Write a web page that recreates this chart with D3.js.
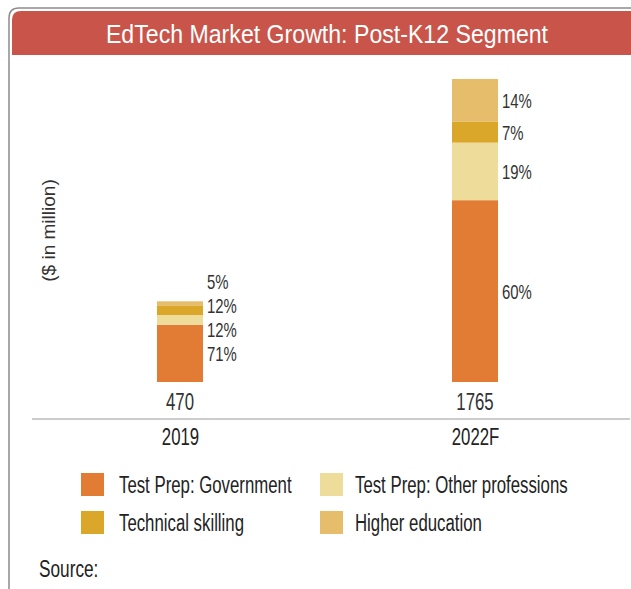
<!DOCTYPE html>
<html>
<head>
<meta charset="utf-8">
<script src="https://cdn.jsdelivr.net/npm/d3@7"></script>
<style>
  body { margin: 0; background: #fff; }
  text { font-family: "Liberation Sans", Arial, sans-serif; }
</style>
</head>
<body>
<svg id="chart"></svg>
<script>
var years = ["2019", "2022F"];
var totals = [470, 1765];
var segments = ["Test Prep: Government", "Test Prep: Other professions", "Technical skilling", "Higher education"];
// share of each segment per year, same order as segments
var shares2019 = [71, 12, 12, 5];
var shares2022 = [60, 19, 7, 14];
var colors = ["#E27B33", "#EDDC9A", "#DBA72B", "#E6BD6B"];

var W = 631, H = 589;
var svg = d3.select("#chart").attr("width", W).attr("height", H);

// the original uses a condensed face, so squeeze the text horizontally
function squeeze(sel, x, y, sx) {
  sel.attr("transform", function(d, i) {
    var px = typeof x === "function" ? x(d, i) : x;
    var py = typeof y === "function" ? y(d, i) : y;
    return "translate(" + px + "," + py + ") scale(" + sx + ",1)";
  });
}

// frame
svg.append("path")
    .attr("d", "M9,589 V18 Q9,8 19,8 H631")
    .attr("fill", "none")
    .attr("stroke", "#8c8c8c")
    .attr("stroke-width", 1.5);

svg.append("path")
    .attr("d", "M12,55 V20 Q12,11 21,11 H631 V55 Z")
    .attr("fill", "#C9544A");

svg.append("text")
    .attr("text-anchor", "middle")
    .attr("fill", "#fff")
    .attr("font-size", 25)
    .text("EdTech Market Growth: Post-K12 Segment")
    .call(squeeze, 327, 43, 0.925);

var x = d3.scalePoint().domain(years).range([32.5, 622.5]).padding(0.5);
var y = d3.scaleLinear().domain([0, d3.max(totals)]).range([382, 79]);
var barW = 46;

var data = years.map(function(yr, i) {
  var shares = i === 0 ? shares2019 : shares2022;
  var acc = 0;
  var segs = shares.map(function(s, j) {
    var v = totals[i] * s / 100;
    var d = {year: yr, share: s, y0: acc, y1: acc + v, color: colors[j]};
    acc += v;
    return d;
  });
  return {year: yr, total: totals[i], segs: segs};
});

var g = svg.append("g");

data.forEach(function(d) {
  var cx = x(d.year);
  g.selectAll(null)
    .data(d.segs)
    .enter().append("rect")
    .attr("x", cx - barW / 2)
    .attr("width", barW)
    .attr("y", function(s) { return y(s.y1); })
    .attr("height", function(s) { return y(s.y0) - y(s.y1); })
    .attr("fill", function(s) { return s.color; });

  // labels sit at segment middles; if any two collide, stack them up from the bottom one
  var gap = 24;
  var mids = d.segs.map(function(s) { return (y(s.y0) + y(s.y1)) / 2; });
  var crowded = mids.some(function(m, i) { return i > 0 && mids[i - 1] - m < gap; });
  var pos = crowded ? mids.map(function(m, i) { return mids[0] - i * gap; }) : mids;

  g.selectAll(null)
    .data(d.segs)
    .enter().append("text")
    .attr("font-size", 21)
    .attr("fill", "#333")
    .text(function(s) { return s.share + "%"; })
    .call(squeeze, cx + barW / 2 + 4, function(s, i) { return pos[i] + 7.5; }, 0.71);

  g.append("text")
    .attr("text-anchor", "middle")
    .attr("font-size", 24)
    .attr("fill", "#333")
    .text(d.total)
    .call(squeeze, cx, 410, 0.7);
});

// x axis
var xAxis = d3.axisBottom(x).tickSize(0);
var ax = svg.append("g")
    .attr("transform", "translate(0,419)")
    .call(xAxis)
    .attr("font-family", null)
    .attr("font-size", null);
ax.select(".domain").attr("stroke", "#999").attr("stroke-width", 1.2)
    .attr("d", "M32,0H630");
ax.selectAll(".tick text")
    .attr("y", 0).attr("dy", null)
    .attr("font-size", 24)
    .attr("fill", "#222")
    .call(squeeze, 0, 26, 0.7);

svg.append("text")
    .attr("transform", "translate(55,230.5) rotate(-90)")
    .attr("text-anchor", "middle")
    .attr("font-size", 19)
    .attr("fill", "#333")
    .text("($ in million)");

// legend, 2x2 grid filled column by column
var legend = svg.append("g").selectAll("g")
    .data(segments)
    .enter().append("g")
    .attr("transform", function(d, i) {
      var p = [0, 2, 1, 3][i];
      return "translate(" + (p < 2 ? 81 : 320) + "," + (p % 2 === 0 ? 473 : 511) + ")";
    });
legend.append("rect")
    .attr("width", 23).attr("height", 23)
    .attr("fill", function(d, i) { return colors[i]; });
legend.append("text")
    .attr("font-size", 23)
    .attr("fill", "#222")
    .text(function(d) { return d; })
    .call(squeeze, function(d, i) { return i === 1 || i === 3 ? 35 : 38; }, 19.5, 0.73);

svg.append("text")
    .attr("font-size", 23)
    .attr("fill", "#222")
    .text("Source:")
    .call(squeeze, 39, 577, 0.75);
</script>
</body>
</html>
